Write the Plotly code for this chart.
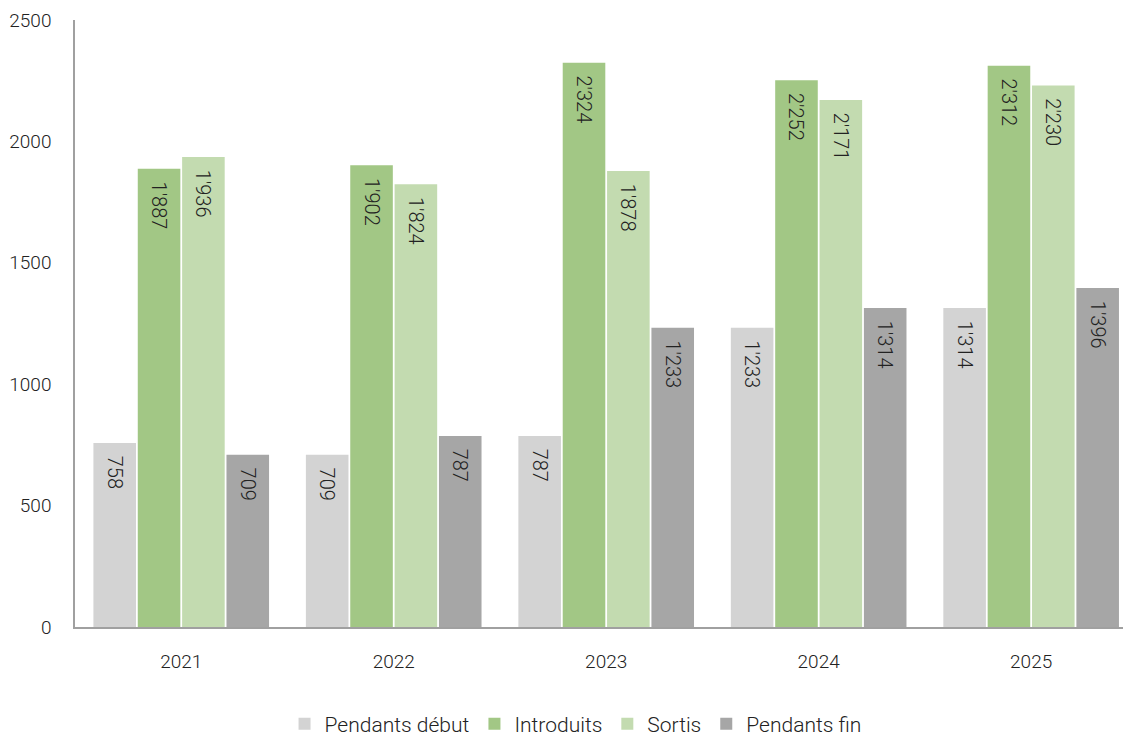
import plotly.graph_objects as go

years = ["2021", "2022", "2023", "2024", "2025"]
pendants_debut = [758, 709, 787, 1233, 1314]
introduits = [1887, 1902, 2324, 2252, 2312]
sortis = [1936, 1824, 1878, 2171, 2230]
pendants_fin = [709, 787, 1233, 1314, 1396]

series = [
    ("Pendants début", pendants_debut, "#d3d3d3"),
    ("Introduits", introduits, "#a2c785"),
    ("Sortis", sortis, "#c3dbb0"),
    ("Pendants fin", pendants_fin, "#a6a6a6"),
]

FONT = "Roboto"
fig = go.Figure()
for name, vals, color in series:
    fig.add_trace(go.Bar(
        name=name, x=years, y=vals,
        marker=dict(color=color, line=dict(width=0)),
        texttemplate="\u00a0\u00a0%{y:,}", textposition="inside", insidetextanchor="end",
        textangle=90,
        textfont=dict(family=FONT, size=20, color="#222222", weight=300),
        constraintext="none",
    ))

fig.update_layout(
    width=1123, height=730,
    barmode="group", bargap=0.165, bargroupgap=0.04,
    separators=".'",
    plot_bgcolor="white", paper_bgcolor="white",
    margin=dict(l=67, r=0, t=12, b=111, autoexpand=False),
    font=dict(family=FONT, size=19, color="#222222", weight=300),
    xaxis=dict(range=[-0.5, 4.47], showline=True, linecolor="#a0a0a0", linewidth=1.5,
               ticks="", showgrid=False, tickfont=dict(size=19, weight=300),
               automargin=False, ticklabelstandoff=16),
    yaxis=dict(range=[0, 2500], dtick=500, showline=True, linecolor="#a0a0a0", linewidth=1.5,
               showgrid=False, ticks="", zeroline=False, ticklabelstandoff=18,
               tickfont=dict(size=19, weight=300), automargin=False),
    legend=dict(orientation="h", x=0.474, xanchor="center", y=-0.16, yanchor="middle",
                font=dict(size=21, weight=300), itemwidth=30, traceorder="normal"),
)
fig.write_html("out.html")
